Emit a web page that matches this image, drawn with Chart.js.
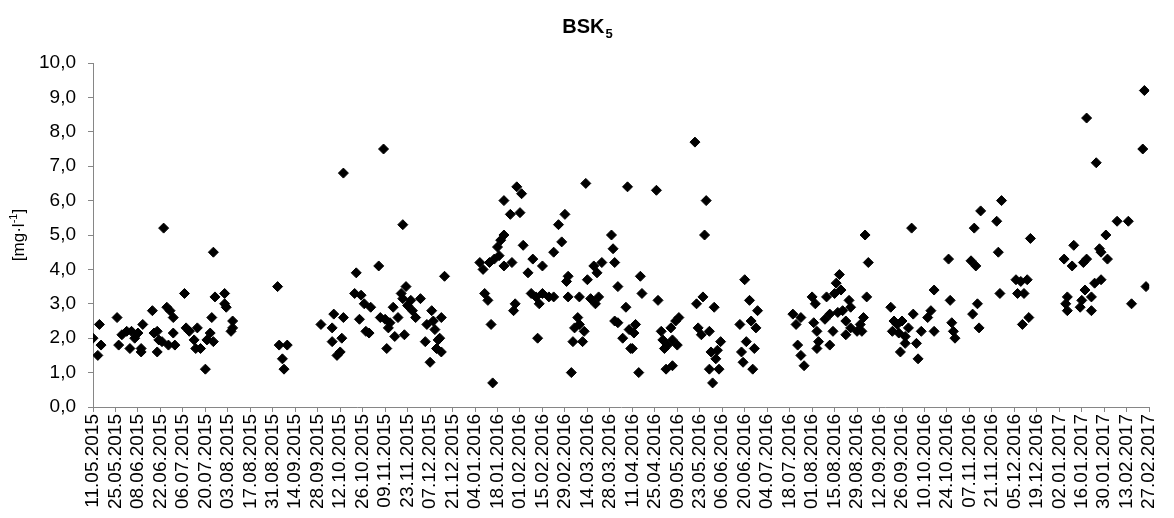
<!DOCTYPE html>
<html>
<head>
<meta charset="utf-8">
<script src="https://cdn.jsdelivr.net/npm/chart.js@4.4.1/dist/chart.umd.min.js"></script>
<style>
  body { margin: 0; background: #fff; }
  canvas { display: block; }
</style>
</head>
<body>
<canvas id="chart" width="1174" height="518"></canvas>
<script>
// days counted from the first sampling date, 11.05.2015
const startDate = Date.UTC(2015, 4, 11);
const xTickStep = 14;
const lastDay = 658; // 27.02.2017

const sampleDay = [
  0, 4, 5, 3, 15, 16, 18, 21, 23, 24, 26, 28, 30, 31, 30, 37, 38, 40, 40, 41, 44, 46, 48, 50,
  50, 47, 51, 43, 57, 58, 60, 63, 64, 65, 67, 70, 71, 73, 74, 75, 75, 76, 82, 82, 83, 86, 87, 87,
  115, 116, 121, 118, 119,
  142, 149, 150, 156, 149, 155, 152, 154, 156,
  164, 163, 167, 169, 173, 166, 170, 172,
  178, 181, 179, 182, 185, 187, 184, 188, 183, 190,
  192, 193, 193, 195, 196, 194, 198, 199, 201, 204,
  207, 208, 210, 211, 212, 213, 214, 215, 219, 217, 216, 217,
  241, 243, 244, 246, 248, 249, 247, 250, 252, 253, 254, 256, 256, 261, 256, 260, 266, 264, 267, 268, 263, 262,
  271, 274, 273, 276, 278, 280, 280, 284, 287, 277, 287, 290, 292, 294, 296, 295, 296, 298,
  302, 300, 303, 299, 305, 306, 303, 307, 308, 310, 313, 315, 312, 314, 317,
  323, 324, 325, 327, 325, 327, 330, 332, 334, 335, 333,
  338, 337, 336, 341, 342, 340,
  351, 352, 354, 355, 356, 358, 357, 361, 360, 363, 365, 364, 361,
  375, 382, 381, 380, 376, 387, 377, 379, 384, 391, 385, 389, 384, 390, 386, 388,
  406, 409, 414, 403, 410, 413, 407, 404, 412, 405, 411,
  436, 438, 441, 439, 441, 443, 448, 450, 449, 451, 451, 452,
  457, 456, 459, 461, 459, 462, 463, 465, 466, 464, 467, 469, 471, 472, 469, 472, 476, 479, 480, 478, 481, 483, 482,
  497, 499, 498, 501, 502, 504, 506, 503, 506, 508, 511, 510, 513, 514, 516, 520, 522, 524, 524,
  533, 534, 535, 536, 537,
  549, 547, 550, 551, 548, 552, 553, 563, 564, 565, 566,
  575, 578, 582, 576, 580, 579, 583, 584,
  605, 611, 610, 606, 607, 607, 615, 616, 617, 619, 619, 618, 622, 622, 624, 625, 627, 628, 628, 631, 632,
  638, 645, 647, 654, 655, 656
];

const bsk5 = [
  2.0, 2.4, 1.8, 1.5, 2.6, 1.8, 2.1, 2.2, 1.7, 2.2, 2.0, 2.15, 1.7, 2.4, 1.6, 2.8, 2.15, 1.6, 2.2, 1.95, 5.2, 2.9, 2.8, 2.6,
  2.15, 1.8, 1.8, 1.9, 3.3, 2.3, 2.2, 1.95, 1.7, 2.3, 1.7, 1.1, 1.95, 2.15, 2.6, 1.9, 4.5, 3.2, 3.3, 3.0, 2.9, 2.2, 2.5, 2.3,
  3.5, 1.8, 1.8, 1.4, 1.1,
  2.4, 2.3, 2.7, 2.6, 1.9, 2.0, 1.5, 1.6, 6.8,
  3.9, 3.3, 3.25, 3.0, 2.9, 2.55, 2.2, 2.15,
  4.1, 7.5, 2.6, 2.55, 2.45, 2.9, 2.3, 2.05, 1.7, 2.6,
  3.3, 3.15, 5.3, 3.5, 2.95, 2.1, 3.1, 2.8, 2.6, 3.15,
  1.9, 2.4, 1.3, 2.8, 2.5, 2.25, 1.7, 1.95, 3.8, 2.6, 2.0, 1.6,
  4.2, 4.0, 3.3, 3.1, 2.4, 0.7, 4.2, 4.3, 4.65, 4.4, 4.85, 5.0, 4.1, 4.2, 6.0, 5.6, 5.65, 6.4, 6.2, 4.7, 3.0, 2.8,
  3.9, 4.3, 3.3, 3.2, 3.0, 3.3, 4.1, 3.2, 3.2, 2.0, 4.5, 5.3, 4.8, 5.6, 3.8, 3.65, 3.2, 1.0,
  2.6, 2.3, 2.4, 1.9, 1.9, 2.2, 3.2, 6.5, 3.7, 3.15, 3.0, 3.2, 4.1, 3.9, 4.2,
  5.0, 4.6, 4.2, 3.5, 2.5, 2.45, 2.0, 2.9, 2.25, 1.7, 6.4,
  2.4, 2.15, 1.7, 3.8, 3.3, 1.0,
  6.3, 3.1, 2.2, 1.95, 1.7, 1.8, 1.1, 1.2, 2.3, 2.5, 2.6, 1.8, 1.95,
  7.7, 6.0, 5.0, 3.2, 3.0, 2.9, 2.3, 2.1, 2.2, 1.9, 1.6, 1.65, 1.1, 1.1, 0.7, 1.4,
  3.7, 3.1, 2.8, 2.4, 2.5, 2.3, 1.9, 1.6, 1.7, 1.3, 1.1,
  2.7, 2.4, 2.6, 1.8, 1.5, 1.2, 3.2, 3.0, 2.45, 2.2, 1.7, 1.9,
  3.2, 2.55, 2.7, 2.2, 1.8, 3.3, 3.6, 3.85, 3.4, 2.75, 2.8, 2.5, 3.1, 2.9, 2.1, 2.3, 2.2, 2.2, 2.6, 2.4, 5.0, 4.2, 3.2,
  2.9, 2.5, 2.2, 2.4, 2.15, 2.5, 2.05, 1.6, 1.85, 2.3, 2.7, 5.2, 1.85, 1.4, 2.2, 2.6, 2.8, 2.2, 3.4,
  4.3, 3.1, 2.45, 2.2, 2.0,
  5.2, 4.25, 4.1, 3.0, 2.7, 2.3, 5.7, 5.4, 4.5, 3.3, 6.0,
  3.7, 3.65, 3.7, 3.3, 3.3, 2.4, 2.6, 4.9,
  4.3, 4.7, 4.1, 3.0, 3.2, 2.8, 2.9, 3.1, 4.2, 4.3, 8.4, 3.4, 3.2, 2.8, 3.6, 7.1, 4.6, 4.5, 3.7, 5.0, 4.3,
  5.4, 5.4, 3.0, 7.5, 9.2, 3.5
];

const points = sampleDay.map((d, i) => ({ x: d, y: bsk5[i] }));

function dayLabel(d) {
  const dt = new Date(startDate + d * 86400000);
  const dd = String(dt.getUTCDate()).padStart(2, '0');
  const mm = String(dt.getUTCMonth() + 1).padStart(2, '0');
  return dd + '.' + mm + '.' + dt.getUTCFullYear();
}

const FONT = '"Liberation Sans", Arial, sans-serif';

// title and axis title need sub/superscripts, so draw them by hand
const textPlugin = {
  id: 'texts',
  afterDraw(chart) {
    const ctx = chart.ctx;
    ctx.save();
    ctx.fillStyle = '#000';
    ctx.textBaseline = 'alphabetic';
    ctx.textAlign = 'left';
    ctx.font = 'bold 20px ' + FONT;
    const wMain = ctx.measureText('BSK').width;
    ctx.font = 'bold 13px ' + FONT;
    const wSub = ctx.measureText('5').width;
    const x0 = 587 - (wMain + wSub) / 2;
    ctx.font = 'bold 20px ' + FONT;
    ctx.fillText('BSK', x0, 33);
    ctx.font = 'bold 13px ' + FONT;
    ctx.fillText('5', x0 + wMain + 1, 38);

    // y axis title, rotated
    ctx.translate(24, 235);
    ctx.rotate(-Math.PI / 2);
    ctx.font = '17px ' + FONT;
    const a = '[mg·l', b = '-1', c = ']';
    const wa = ctx.measureText(a).width;
    const wc = ctx.measureText(c).width;
    ctx.font = '11px ' + FONT;
    const wb = ctx.measureText(b).width;
    const sx = -(wa + wb + wc) / 2;
    ctx.font = '17px ' + FONT;
    ctx.fillText(a, sx, 0);
    ctx.font = '11px ' + FONT;
    ctx.fillText(b, sx + wa, -7);
    ctx.font = '17px ' + FONT;
    ctx.fillText(c, sx + wa + wb, 0);
    ctx.restore();
  }
};

Chart.defaults.font.family = FONT;
Chart.defaults.font.size = 19;
Chart.defaults.color = '#000';

new Chart(document.getElementById('chart').getContext('2d'), {
  type: 'scatter',
  data: {
    datasets: [{
      label: 'BSK5',
      data: points,
      pointStyle: 'rectRot',
      pointRadius: 5,
      borderWidth: 1,
      backgroundColor: '#000',
      borderColor: '#000'
    }]
  },
  options: {
    responsive: false,
    animation: false,
    layout: { padding: { top: 63, right: 11, left: 0, bottom: 0 } },
    plugins: {
      legend: { display: false },
      tooltip: { enabled: false },
      title: { display: false }
    },
    scales: {
      x: {
        type: 'linear',
        min: 0,
        max: lastDay,
        afterFit: (s) => { s.height = 111; },
        grid: { drawOnChartArea: false, color: '#868686', tickLength: 5 },
        border: { color: '#868686' },
        ticks: {
          stepSize: xTickStep,
          autoSkip: false,
          maxTicksLimit: 100,
          minRotation: 90,
          maxRotation: 90,
          padding: 2,
          callback: (v) => dayLabel(v)
        }
      },
      y: {
        min: 0,
        max: 10,
        afterFit: (s) => { s.width = 93; },
        grid: { drawOnChartArea: false, color: '#868686', tickLength: 5 },
        border: { color: '#868686' },
        ticks: {
          stepSize: 1,
          padding: 12,
          callback: (v) => v.toFixed(1).replace('.', ',')
        }
      }
    }
  },
  plugins: [textPlugin]
});
</script>
</body>
</html>
